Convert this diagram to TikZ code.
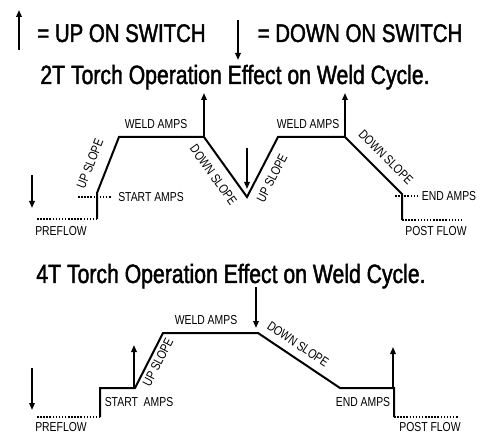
\documentclass[tikz,border=0pt]{standalone}
\usepackage{fontspec}
\setmainfont[FakeStretch=0.8]{Liberation Sans}
\newfontfamily\headfont[FakeStretch=0.8, FakeBold=1.6]{Liberation Sans}
\usetikzlibrary{arrows.meta}
\definecolor{inkblack}{HTML}{000000}

\begin{document}
\begin{tikzpicture}[x=1pt, y=-1pt, inkblack,
  trace/.style={line width=2pt, line join=miter},
  flow/.style={line width=1.5pt, dash pattern=on 1.5pt off 1.6pt},
  switch/.style={line width=1.6pt, -{Triangle[length=7pt, width=5.5pt]}},
  big/.style={font=\headfont\fontsize{25.5}{30}\selectfont, inner sep=0pt,
    anchor=base},
  lab/.style={font=\fontsize{13}{15}\selectfont, inner sep=0pt, anchor=base}]
  \useasboundingbox (0,0) rectangle (484,435);

  % legend and titles
  \node[big] (upkey) at (121.5,42) {= UP ON SWITCH};
  \node[big] (downkey) at (360,42) {= DOWN ON SWITCH};
  \node[big, font=\headfont\fontsize{26.5}{30}\selectfont] (title2t)
    at (235,84) {2T Torch Operation Effect on Weld Cycle.};
  \node[big, font=\headfont\fontsize{26.5}{30}\selectfont] (title4t)
    at (231,283) {4T Torch Operation Effect on Weld Cycle.};

  % switch arrows
  \foreach \nm/\x/\ya/\yb in {keyup/19/50/10, keydn/238/20/60,
                             twoa/32/175/208, twob/204/137/93,
                             twoc/247/148/189, twod/345/137/93,
                             foura/32/368/410, fourb/134/388/345,
                             fourc/256/287/328, fourd/393/388/347}{%
    \coordinate (\nm-s) at (\x,\ya);
    \coordinate (\nm-e) at (\x,\yb);
    \draw[switch] (\nm-s) -- (\nm-e);}

  % 2T cycle
  \foreach \nm/\x/\y in {a0/37/219, a1/97/219, a2/97/193, a3/119/137,
                         a4/204/137, a5/247/197, a6/278/137, a7/345/137,
                         a8/402/194, a9/402/220, a10/462/220,
                         s0/78/197, s1/111/197, e0/395/196, e1/417/196}{%
    \coordinate (\nm) at (\x,\y);}
  \draw[flow] (a0) -- (a1);
  \draw[flow] (s0) -- (s1);
  \draw[flow] (e0) -- (e1);
  \draw[flow] (a9) -- (a10);
  \draw[trace] (a1) -- (a2) -- (a3) -- (a4) -- (a5) -- (a6) -- (a7)
    -- (a8) -- (a9);

  \node[lab] (weld2a) at (156,129) {WELD AMPS};
  \node[lab] (weld2b) at (308,129) {WELD AMPS};
  \node[lab] (start2) at (151,202) {START AMPS};
  \node[lab] (end2) at (449,201) {END AMPS};
  \node[lab] (pre2) at (61,236) {PREFLOW};
  \node[lab] (post2) at (436,236) {POST FLOW};
  \node[lab, anchor=center, rotate=68.6] (up2a) at (90,164) {UP SLOPE};
  \node[lab, anchor=center, rotate=-54.4] (dn2a) at (213.5,175) {DOWN SLOPE};
  \node[lab, anchor=center, rotate=62.7] (up2b) at (272,178) {UP SLOPE};
  \node[lab, anchor=center, rotate=-45] (dn2b) at (386,157) {DOWN SLOPE};

  % 4T cycle
  \foreach \nm/\x/\y in {b0/37/417, b1/100/417, b2/100/388, b3/135/388,
                         b4/163/333, b5/258/333, b6/340/388, b7/394/388,
                         b8/394/417, b9/459/417}{%
    \coordinate (\nm) at (\x,\y);}
  \draw[flow] (b0) -- (b1);
  \draw[flow] (b8) -- (b9);
  \draw[trace] (b1) -- (b2) -- (b3) -- (b4) -- (b5) -- (b6) -- (b7) -- (b8);

  \node[lab] (weld4) at (206,324) {WELD AMPS};
  \node[lab] (start4) at (139,406) {START\ \ AMPS};
  \node[lab] (end4) at (363,406) {END AMPS};
  \node[lab] (pre4) at (61,431) {PREFLOW};
  \node[lab] (post4) at (430,431) {POST FLOW};
  \node[lab, anchor=center, rotate=63] (up4) at (158,362) {UP SLOPE};
  \node[lab, anchor=center, rotate=-33.9] (dn4) at (298,344) {DOWN SLOPE};
\end{tikzpicture}
\end{document}
